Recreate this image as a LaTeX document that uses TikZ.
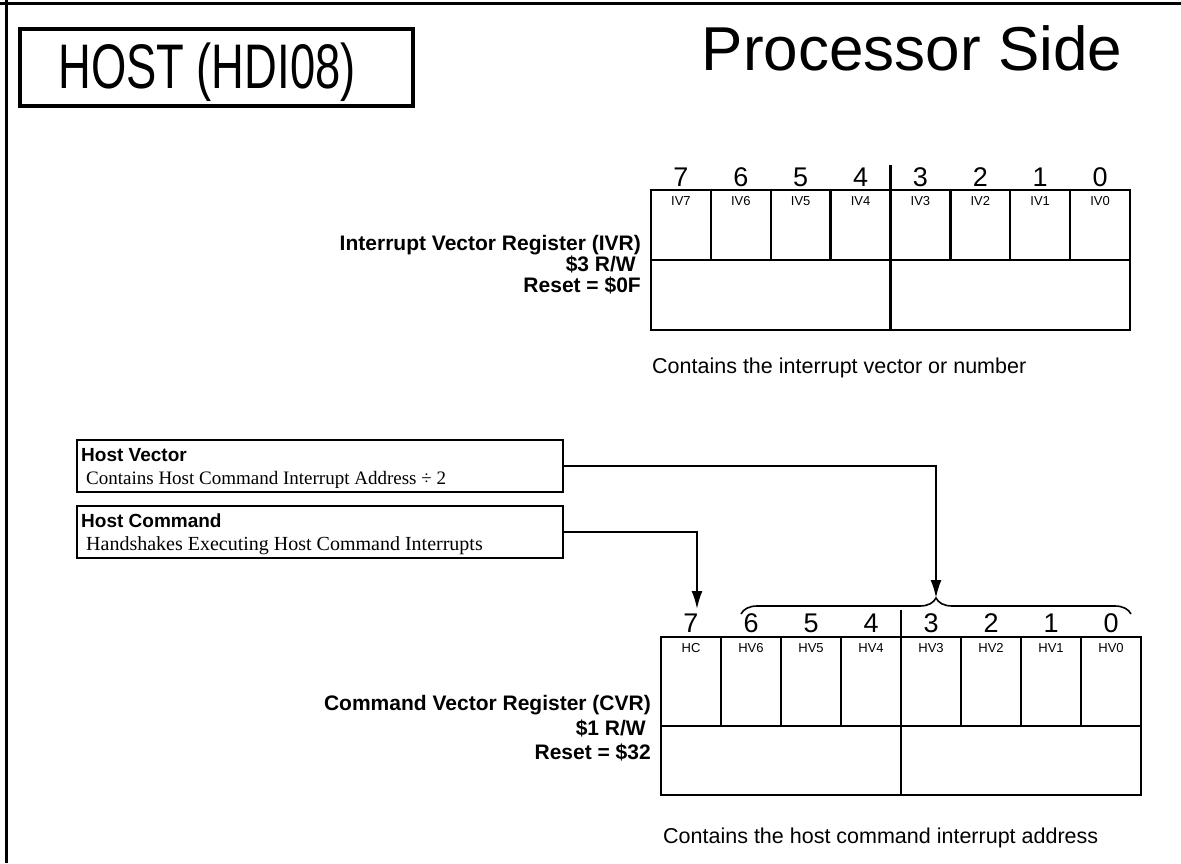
\documentclass[tikz,border=0pt]{standalone}
\usepackage{fontspec}
\setmainfont{Liberation Sans}
\newfontfamily\seriffont{Liberation Serif}
\usetikzlibrary{decorations.pathreplacing,arrows.meta}
\begin{document}
\begin{tikzpicture}[x=1pt,y=-1pt,
  frame/.style={line width=3pt},
  reg/.style={line width=2.4pt},
  conn/.style={line width=2pt,-{Latex[length=18pt,width=11pt]}},
  digit/.style={font=\fontsize{27}{27}\selectfont,anchor=base},
  cell/.style={font=\fontsize{13}{13}\selectfont,anchor=base},
  lbl/.style={font=\fontsize{21}{21}\selectfont\bfseries,anchor=base east,inner sep=0pt},
  note/.style={font=\fontsize{21.5}{21.5}\selectfont,anchor=base west,inner sep=0pt},
  infobox/.style={draw,line width=2.4pt,minimum width=486pt,minimum height=52pt,inner sep=0pt},
  infohead/.style={font=\fontsize{19}{19}\selectfont\bfseries,anchor=base west,inner sep=0pt},
  infotext/.style={font=\fontsize{19}{19}\seriffont,anchor=base west,inner sep=0pt},
]
\useasboundingbox (0,0) rectangle (1181,863);
% frame
\draw[frame] (0,3.5) -- (1181,3.5);
\draw[frame] (6.5,0) -- (6.5,863);
% title
\node[draw,line width=4pt,minimum width=393pt,minimum height=77pt,inner sep=0pt] (hostbox) at (216.5,67.5) {};
\node[font=\fontsize{63}{63}\selectfont,inner sep=0pt,anchor=base] (hosttxt) at (207,88) {\scalebox{0.72}[1]{HOST (HDI08)}};
\node[font=\fontsize{62}{62}\selectfont,inner sep=0pt,anchor=base] (proc) at (912,70) {Processor Side};
% IVR register
\draw[reg] (651,190) rectangle (1130,330);
\draw[reg] (651,260) -- (1130,260);
\foreach \i in {1,2,3,5,6,7} \draw[reg] ({651+\i*59.875},190) -- ({651+\i*59.875},260);
\draw[reg] (890.5,165) -- (890.5,330);
\foreach \b [count=\i from 0] in {7,6,5,4,3,2,1,0} {
  \node[digit] (ivd\b) at ({651+(\i+0.5)*59.875},186) {\b};
  \node[cell] (ivc\b) at ({651+(\i+0.5)*59.875},205) {IV\b};
}
\node[lbl] (ivrname) at (641,250) {Interrupt Vector Register (IVR)};
\node[lbl] (ivraddr) at (636,271) {\$3 R/W};
\node[lbl] (ivrreset) at (641,292) {Reset = \$0F};
\node[note] (ivrnote) at (652,373) {Contains the interrupt vector or number};
% info boxes
\node[infobox] (hv) at (320,466) {};
\node[infohead] (hvt) at (81,461) {Host Vector};
\node[infotext] (hvd) at (86,484) {Contains Host Command Interrupt Address ÷ 2};
\node[infobox] (hc) at (320,532) {};
\node[infohead] (hct) at (81,527) {Host Command};
\node[infotext,font=\fontsize{20}{20}\seriffont] (hcd) at (86,550) {Handshakes Executing Host Command Interrupts};
% CVR register
\draw[reg] (661,637) rectangle (1141,795);
\draw[reg] (661,726) -- (1141,726);
\foreach \i in {1,2,3,5,6,7} \draw[reg] ({661+\i*60},637) -- ({661+\i*60},726);
\draw[reg] (901,610) -- (901,795);
\foreach \b/\t [count=\i from 0] in {7/HC,6/HV6,5/HV5,4/HV4,3/HV3,2/HV2,1/HV1,0/HV0} {
  \node[digit] (cvd\b) at ({661+(\i+0.5)*60},632) {\b};
  \node[cell] (cvc\b) at ({661+(\i+0.5)*60},652) {\t};
}
\node[lbl] (cvrname) at (651,710) {Command Vector Register (CVR)};
\node[lbl] (cvraddr) at (646,735) {\$1 R/W};
\node[lbl] (cvrreset) at (651,759) {Reset = \$32};
\node[note] (cvrnote) at (663,843) {Contains the host command interrupt address};
% brace and connectors
\draw[line width=1.6pt,decorate,decoration={brace,amplitude=16pt}] (741,614) -- (1131,614);
\coordinate (bracetip) at (936,598);
\coordinate (hctip) at (697,609);
\draw[conn] (hv.east) -| (bracetip);
\draw[conn] (hc.east) -| (hctip);
\end{tikzpicture}
\end{document}
